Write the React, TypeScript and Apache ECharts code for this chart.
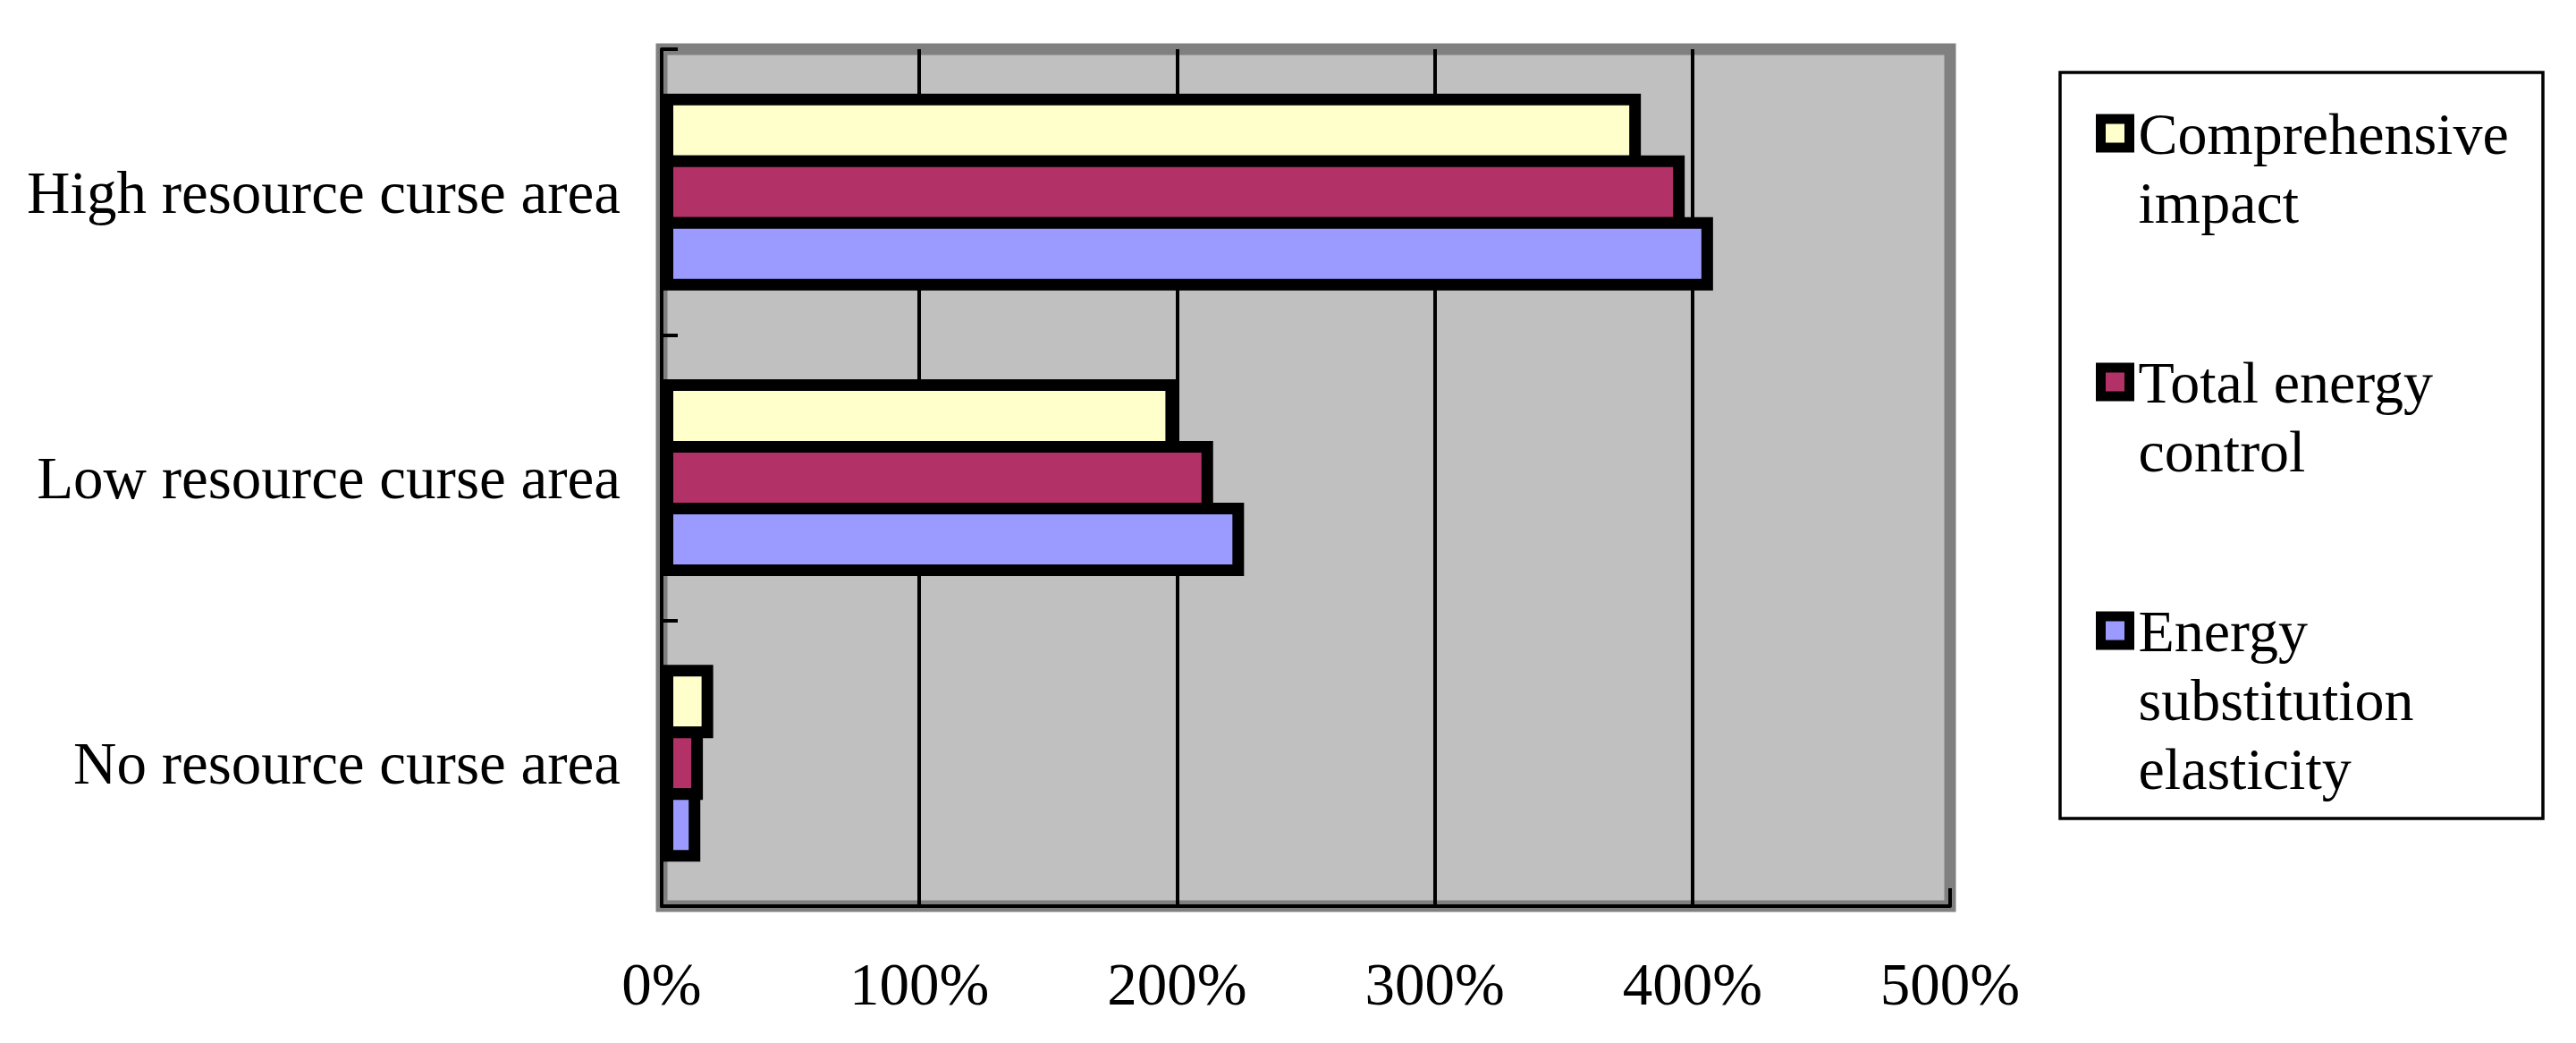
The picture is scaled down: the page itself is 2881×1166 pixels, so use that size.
import React, { useEffect, useRef } from 'react';
import * as echarts from 'echarts';

// Categories (bottom to top on the category axis)
const categories = ['No resource curse area', 'Low resource curse area', 'High resource curse area'];
const seriesNames = ['Comprehensive impact', 'Total energy control', 'Energy substitution elasticity'];
const legendLabels = ['Comprehensive\nimpact', 'Total energy\ncontrol', 'Energy\nsubstitution\nelasticity'];
// Values in percent
const comprehensiveImpact = [20, 200, 380];
const totalEnergyControl = [16, 214, 397];
const energySubstitutionElasticity = [15, 226, 408];
const xMin = 0;
const xMax = 500;
const xInterval = 100;

const seriesValues = [comprehensiveImpact, totalEnergyControl, energySubstitutionElasticity];
const colors = ['#FFFFCC', '#B23268', '#9B9BFF'];

const FONT = "'Liberation Serif', 'Times New Roman', serif";

export default function App() {
  const ref = useRef<HTMLDivElement>(null);
  useEffect(() => {
    if (!ref.current) return;
    const chart = echarts.init(ref.current, undefined, { renderer: 'svg' });
    const lineH = 77;
    const iconCenters = [149, 427, 705];
    const legends = seriesNames.map((name, i) => {
      const nLines = legendLabels[i].split('\n').length;
      const total = 2 * nLines - 1;
      return {
        data: [name],
        orient: 'vertical',
        left: 2344,
        top: iconCenters[i] - (total * lineH) / 2,
        padding: 0,
        icon: 'rect',
        itemWidth: 32,
        itemHeight: 32,
        selectedMode: false,
        itemStyle: { borderColor: '#000', borderWidth: 11 },
        formatter: () => '\n'.repeat(nLines - 1) + legendLabels[i],
        textStyle: {
          fontFamily: FONT,
          fontSize: 66,
          lineHeight: lineH,
          color: '#000',
          padding: [0, 0, 0, 5],
        },
      };
    });
    const barW = 82;
    const border = 13;
    chart.setOption({
      animation: false,
      backgroundColor: '#ffffff',
      grid: {
        left: 740,
        top: 55,
        width: 1441,
        height: 958,
        show: true,
        backgroundColor: '#C0C0C0',
        borderColor: '#808080',
        borderWidth: 13,
      },
      legend: legends,
      graphic: [
        {
          type: 'rect',
          shape: { x: 2304, y: 81, width: 540, height: 834 },
          style: { fill: '#ffffff', stroke: '#000000', lineWidth: 3.5 },
          z: 0,
        },
      ],
      xAxis: {
        type: 'value',
        min: xMin,
        max: xMax,
        interval: xInterval,
        axisLine: { show: true, lineStyle: { color: '#000', width: 4 } },
        axisTick: { show: true, inside: true, length: 20, lineStyle: { color: '#000', width: 4 } },
        splitLine: { show: true, showMinLine: false, showMaxLine: false, lineStyle: { color: '#000', width: 4 } },
        axisLabel: {
          formatter: '{value}%',
          fontFamily: FONT,
          fontSize: 67,
          color: '#000',
          margin: 53,
        },
      },
      yAxis: {
        type: 'category',
        data: categories,
        axisLine: { show: true, lineStyle: { color: '#000', width: 4 } },
        axisTick: { show: true, inside: true, length: 18, lineStyle: { color: '#000', width: 4 } },
        axisLabel: {
          fontFamily: FONT,
          fontSize: 67,
          color: '#000',
          margin: 46,
        },
        splitLine: { show: false },
      },
      series: seriesNames.map((name, i) => ({
        name,
        type: 'bar',
        data: seriesValues[i],
        barWidth: barW,
        barGap: `${(-border / barW) * 100}%`,
        itemStyle: { color: colors[i], borderColor: '#000', borderWidth: border },
        emphasis: { disabled: true },
      })),
    });
    return () => chart.dispose();
  }, []);
  return (
    <div
      ref={ref}
      style={{ position: 'fixed', left: 0, top: 0, width: 2881, height: 1166 }}
    />
  );
}
